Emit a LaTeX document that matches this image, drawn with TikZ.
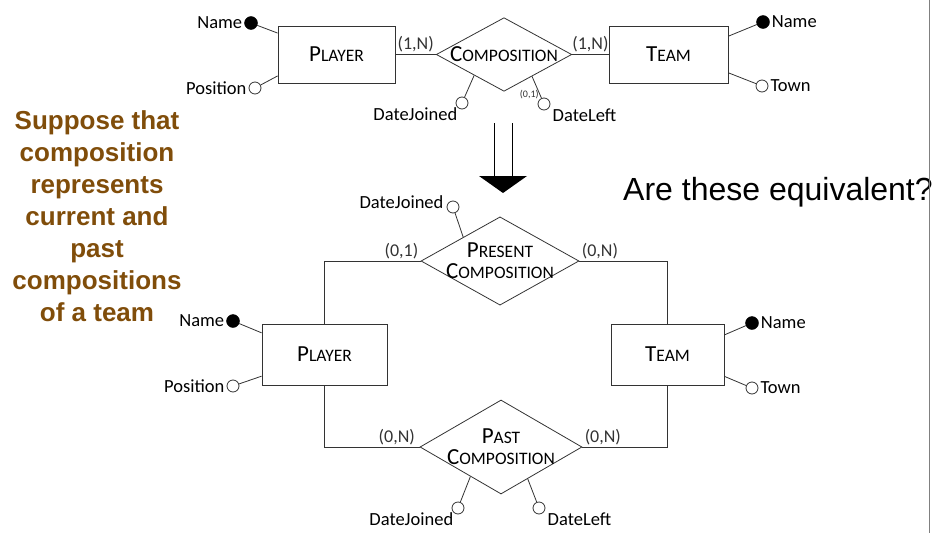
\documentclass[tikz,border=0pt]{standalone}
\usepackage{fontspec}
\setmainfont{Carlito}
\newfontfamily\arialfont{Liberation Sans}
\usetikzlibrary{shapes.geometric,positioning}
\definecolor{notebrown}{RGB}{128,77,10}
\newcommand{\ersc}[2]{{\fontsize{23}{26}\selectfont #1}{\fontsize{17.5}{21}\selectfont #2}}

\begin{document}
\begin{tikzpicture}[x=1pt, y=-1pt,
  entity/.style={draw=black!80, line width=0.8pt, rectangle, inner sep=0pt},
  reln/.style={draw=black!80, line width=0.8pt, diamond, inner sep=0pt, align=center, font=\fontsize{17.5}{21}\selectfont},
  keyattr/.style={circle, draw=black, fill=black, minimum size=13pt, inner sep=0pt},
  attr/.style={circle, draw=black!80, line width=0.8pt, fill=white, minimum size=12pt, inner sep=0pt},
  lbl/.style={font=\fontsize{18.5}{21}\selectfont, inner sep=0pt},
  card/.style={font=\fontsize{18}{21}\selectfont, inner sep=2pt},
  tinycard/.style={font=\fontsize{10}{12}\selectfont, inner sep=1pt},
  link/.style={black!80, line width=0.8pt}]
  \useasboundingbox (0,0) rectangle (935,533);

  % first schema
  \node[entity, minimum width=117pt, minimum height=57pt] (p1) at (336.5,54.5) {\ersc{P}{LAYER}};
  \node[reln, aspect=1.84, minimum width=134pt, minimum height=73pt] (c1) at (504,54.5) {\ersc{C}{OMPOSITION}};
  \node[entity, minimum width=119pt, minimum height=57pt] (t1) at (668.5,54.5) {\ersc{T}{EAM}};

  \node[keyattr] (a1) at (251,23) {};
  \node[lbl, left=2pt of a1] (a1l) {Name};
  \node[attr] (a2) at (255,88) {};
  \node[lbl, left=2pt of a2] (a2l) {Position};
  \node[keyattr] (a3) at (763,22) {};
  \node[lbl, right=2pt of a3] (a3l) {Name};
  \node[attr] (a4) at (762,86) {};
  \node[lbl, right=2pt of a4] (a4l) {Town};
  \node[attr] (a5) at (462,103) {};
  \node[lbl, below left=0pt of a5] (a5l) {DateJoined};
  \node[attr] (a6) at (544,104) {};
  \node[lbl, below right=0pt and 4pt of a6] (a6l) {DateLeft};

  \draw[link] (a1) -- (p1.160);
  \draw[link] (a2) -- (p1.200);
  \draw[link] (t1.17) -- (a3);
  \draw[link] (t1.343) -- (a4);
  \draw[link] (p1.east) -- node[card, above] {(1,N)} (c1.west);
  \draw[link] (c1.east) -- node[card, above] {(1,N)} (t1.west);
  \draw[link] (c1.215) -- (a5);
  \draw[link] (c1.322) -- node[tinycard, pos=0.85, left] {(0,1)} (a6);

  % arrow between the two schemas
  \draw[black, line width=0.8pt] (494,123) -- (494,176) (512,123) -- (512,176);
  \fill[black] (479,176) -- (527,176) -- (503,193) -- cycle;

  % second schema
  \node[reln, aspect=1.79, inner xsep=-7pt, minimum width=154pt, minimum height=86pt] (c2) at (500,261) {\ersc{P}{RESENT}\\\ersc{C}{OMPOSITION}};
  \node[entity, minimum width=125pt, minimum height=61pt] (p2) at (324.5,354.5) {\ersc{P}{LAYER}};
  \node[entity, minimum width=113pt, minimum height=61pt] (t2) at (667.5,354.5) {\ersc{T}{EAM}};
  \node[reln, aspect=1.72, inner xsep=-5pt, minimum width=162pt, minimum height=94pt] (c3) at (501,447) {\ersc{P}{AST}\\\ersc{C}{OMPOSITION}};

  \node[attr] (a7) at (453,207) {};
  \node[lbl, left=3pt of a7, yshift=5pt] (a7l) {DateJoined};
  \node[keyattr] (a8) at (233,321) {};
  \node[lbl, left=2pt of a8] (a8l) {Name};
  \node[attr] (a9) at (233,386) {};
  \node[lbl, left=2pt of a9] (a9l) {Position};
  \node[keyattr] (a10) at (752,323) {};
  \node[lbl, right=2pt of a10] (a10l) {Name};
  \node[attr] (a11) at (752,388) {};
  \node[lbl, right=2pt of a11] (a11l) {Town};
  \node[attr] (a12) at (458,508) {};
  \node[lbl, below left=0pt of a12] (a12l) {DateJoined};
  \node[attr] (a13) at (539,508) {};
  \node[lbl, below right=0pt and 4pt of a13] (a13l) {DateLeft};

  \draw[link] (c2.147) -- (a7);
  \draw[link] (a8) -- (p2.161);
  \draw[link] (a9) -- (p2.199);
  \draw[link] (t2.19) -- (a10);
  \draw[link] (t2.339) -- (a11);
  \draw[link] (c2.west) -| node[card, at start, above left] {(0,1)} (p2.north);
  \draw[link] (c2.east) -| node[card, at start, above right] {(0,N)} (t2.north);
  \draw[link] (p2.south) |- node[card, pos=0.88, above] {(0,N)} (c3.west);
  \draw[link] (t2.south) |- node[card, pos=0.88, above] {(0,N)} (c3.east);
  \draw[link] (c3.224) -- (a12);
  \draw[link] (c3.310) -- (a13);

  % side texts
  \node[font=\arialfont\bfseries\fontsize{26}{32}\selectfont, text=notebrown, align=center] (note) at (97,216)
    {Suppose that\\composition\\represents\\current and\\past\\compositions\\of a team};
  \node[font=\arialfont\fontsize{32}{36}\selectfont, anchor=west, inner sep=0pt] (quest) at (623,192) {Are these equivalent?};
  \draw[gray, line width=1pt] (929.5,0) -- (929.5,533);
\end{tikzpicture}
\end{document}
